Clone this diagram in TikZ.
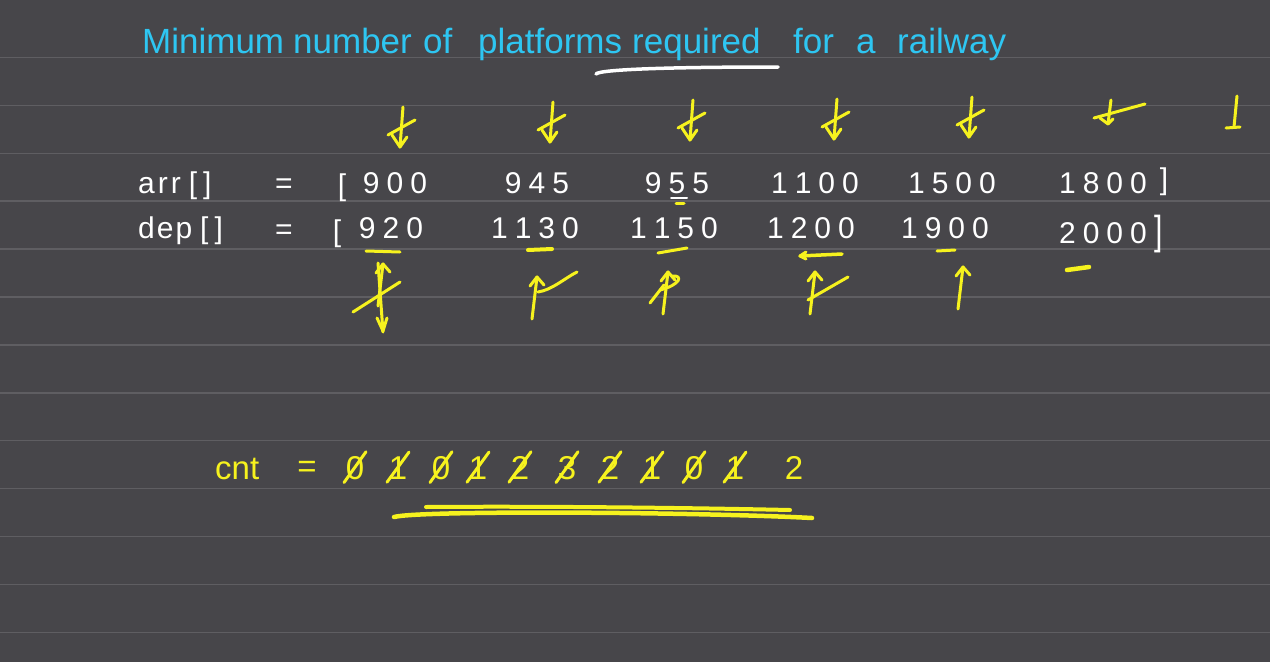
\documentclass[tikz,border=0pt]{standalone}
\usepackage{fontspec}
\setmainfont{Liberation Sans}
\definecolor{bg}{HTML}{47464A}
\definecolor{rulec}{HTML}{5F5E62}
\definecolor{cy}{HTML}{2EC6F2}
\definecolor{yl}{HTML}{F6F21E}
\newcommand\gq{\hspace{7pt}}
\tikzset{
  mk/.style={yl, line width=3pt, line cap=round, line join=round},
  wmk/.style={white, line width=3pt, line cap=round, line join=round},
  title/.style={cy, inner sep=0pt, anchor=base west, font=\fontsize{35}{37}\selectfont},
  num/.style={white, inner sep=0pt, anchor=base, font=\fontsize{30}{32}\selectfont},
  lbl/.style={white, inner sep=0pt, anchor=base west, font=\fontsize{30}{32}\selectfont},
  cntd/.style={yl, inner sep=0pt, anchor=base, font=\fontsize{33}{35}\selectfont},
  dnx/.pic={\draw[mk] (3,-40) -- (0,0); \draw[mk] (-8,-12) -- (0,0) -- (7,-10); \draw[mk] (-12,-12) -- (15,-27);},
  upx/.pic={\draw[mk] (0,0) -- (-5,42); \draw[mk] (-7,9) -- (0,0) -- (7,8);}
}
\begin{document}
\begin{tikzpicture}[x=1pt,y=-1pt]
\fill[bg] (0,0) rectangle (1270,662);
\useasboundingbox (0,0) rectangle (1270,662);
\foreach \k in {0,...,12} \draw[rulec, line width=1.5pt] (0,{57.5+47.9*\k}) -- (1270,{57.5+47.9*\k});

% title
\node[title] (t1) at (142,53) {Minimum};
\node[title] (t2) at (293,53) {number};
\node[title] (t3) at (423,53) {of};
\node[title] (t4) at (478,53) {platforms};
\node[title] (t5) at (632,53) {required};
\node[title] (t6) at (793,53) {for};
\node[title] (t7) at (856,53) {a};
\node[title] (t8) at (897,53) {railway};
\draw[wmk, line width=3.5pt] (596,74) .. controls (600,69) and (680,67) .. (778,67);

% labels
\node[lbl] (arrl) at (138,193) {a\hspace{3pt}r\hspace{3pt}r\hspace{8pt}[\hspace{6pt}]};
\node[lbl] (depl) at (138,238) {d\hspace{2pt}e\hspace{2pt}p\hspace{8pt}[\hspace{6pt}]};
\node[num] (eq1) at (284,193) {=};
\node[num] (eq2) at (284,239) {=};

% arr row
\node[num] (lb1) at (342,195) {[};
\node[num] (a1) at (395,193) {9\gq 0\gq 0};
\node[num] (a2) at (537,193) {9\gq 4\gq 5};
\node[num] (a3) at (677,193) {9\gq 5\gq 5};
\node[num] (a4) at (815,193) {1\gq 1\gq 0\gq 0};
\node[num] (a5) at (952,193) {1\gq 5\gq 0\gq 0};
\node[num] (a6) at (1103,193) {1\gq 8\gq 0\gq 0};
\node[num] (rb1) at (1164,189) {]};
% dep row
\node[num] (lb2) at (337,241) {[};
\node[num] (d1) at (391,238) {9\gq 2\gq 0};
\node[num] (d2) at (535,238) {1\gq 1\gq 3\gq 0};
\node[num] (d3) at (674,238) {1\gq 1\gq 5\gq 0};
\node[num] (d4) at (811,238) {1\gq 2\gq 0\gq 0};
\node[num] (d5) at (945,238) {1\gq 9\gq 0\gq 0};
\node[num] (d6) at (1103,243) {2\gq 0\gq 0\gq 0};
\node[num, yscale=1.35] (rb2) at (1159,244) {]};

% underline of the middle 5
\draw[wmk, line width=2pt] (671,198) -- (687,198);
\draw[mk] (676,203) -- (684,203);

% top pointers (crossed out)
\pic at (400,147) {dnx};
\pic at (550,142) {dnx};
\pic at (690,140) {dnx};
\pic at (834,139) {dnx};
\pic at (969,137) {dnx};
\draw[mk] (1111,100) -- (1108,124); \draw[mk] (1100,118) -- (1108,124) -- (1113,119);
\draw[mk] (1094,118) -- (1145,104);
\draw[mk] (1237,96) -- (1234,127); \draw[mk] (1226,128) -- (1240,127);

% dashes under dep
\draw[mk] (366,251) -- (400,252);
\draw[mk, line width=4pt] (528,250) -- (552,249);
\draw[mk] (658,253) -- (687,248);
\draw[mk, line width=3.5pt] (800,256) -- (842,254); \draw[mk] (806,252) -- (800,256) -- (806,259);
\draw[mk] (937,251) -- (955,250);
\draw[mk, line width=4.5pt] (1067,270) -- (1089,267);

% bottom pointers
\pic at (383,264) {upx};
\draw[mk] (378,263) -- (383,332); \draw[mk] (377,318) -- (383,331) -- (387,318);
\draw[mk] (353,312) -- (400,282);
\pic at (537,277) {upx};
\draw[mk] (538,292) .. controls (552,290) and (565,278) .. (577,272);
\pic at (668,272) {upx};
\draw[mk] (650,303) -- (664,285); \draw[mk] (660,290) .. controls (680,285) and (684,275) .. (672,276);
\pic at (815,272) {upx};
\draw[mk] (808,300) -- (848,277);
\pic at (963,267) {upx};

% cnt
\node[cntd, anchor=base west] (cnt) at (215,479) {cnt};
\node[cntd] (eq3) at (307,477) {=};
\foreach \d/\x [count=\i] in {0/355,1/398,0/441,1/478,2/520,3/567,2/610,1/652,0/694,1/735,2/794}
  \node[cntd] (c\i) at (\x,479) {\d};
\foreach \i in {1,...,10}
  \draw[mk] ([xshift=-11pt,yshift=-3pt]c\i.south) -- ([xshift=11pt,yshift=4pt]c\i.north);
\draw[mk, line width=4pt] (426,507) .. controls (550,506) and (700,508) .. (790,510);
\draw[mk, line width=4.5pt] (394,517) .. controls (420,510) and (700,512) .. (812,518);
\end{tikzpicture}
\end{document}
